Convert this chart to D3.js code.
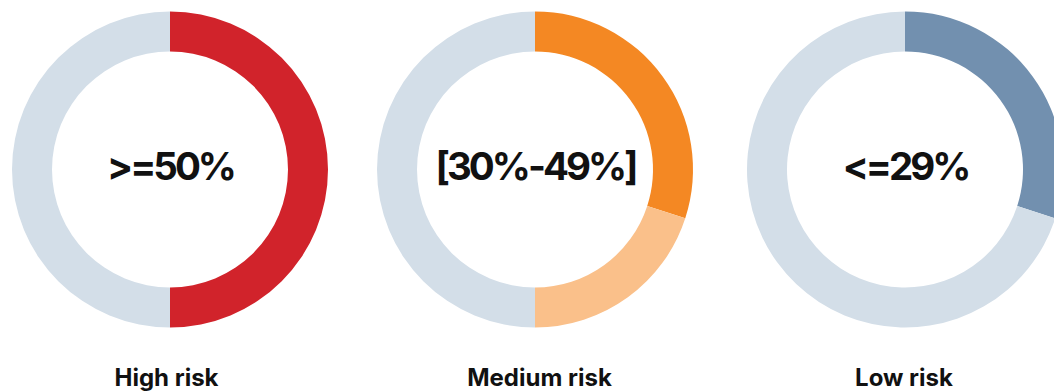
<!DOCTYPE html>
<html>
<head>
<meta charset="utf-8">
<script src="https://cdn.jsdelivr.net/npm/d3@7"></script>
<style>
  html, body { margin: 0; padding: 0; background: #fff; }
  svg { display: block; }
</style>
</head>
<body>
<svg id="chart" width="1054" height="392"></svg>
<script>
// Data
const categories = ["High risk", "Medium risk", "Low risk"];
const centerLabels = [">=50%", "[30%-49%]", "<=29%"];
// Each donut: segment values (percent of ring), in clockwise order from 12 o'clock
const highRiskValues = [50, 50];
const mediumRiskValues = [30, 20, 50];
const lowRiskValues = [30, 70];
const highRiskColors = ["#D1232B", "#D3DEE8"];
const mediumRiskColors = ["#F48823", "#FAC08A", "#D3DEE8"];
const lowRiskColors = ["#7290AF", "#D3DEE8"];

const donuts = [
  { name: categories[0], label: centerLabels[0], values: highRiskValues, colors: highRiskColors },
  { name: categories[1], label: centerLabels[1], values: mediumRiskValues, colors: mediumRiskColors },
  { name: categories[2], label: centerLabels[2], values: lowRiskValues, colors: lowRiskColors }
];

const svg = d3.select("#chart");
const x = d3.scaleOrdinal().domain(categories).range([170, 535, 905]);
const xLabel = d3.scaleOrdinal().domain(categories).range([166.5, 539.5, 904]);
const cy = 169.5;
const outerR = 158, innerR = 118;

const pie = d3.pie().sort(null).value(d => d);
const arc = d3.arc().innerRadius(innerR).outerRadius(outerR);

donuts.forEach(d => {
  const g = svg.append("g").attr("transform", `translate(${x(d.name)},${cy})`);
  g.selectAll("path")
    .data(pie(d.values))
    .join("path")
    .attr("d", arc)
    .attr("fill", (p, i) => d.colors[i]);
  g.append("text")
    .attr("text-anchor", "middle")
    .attr("x", 0.5)
    .attr("y", 10)
    .attr("font-family", "Inter, 'Noto Sans', sans-serif")
    .attr("font-weight", 700)
    .attr("font-size", 38.5)
    .attr("letter-spacing", -3)
    .attr("fill", "#111")
    .text(d.label);
  svg.append("text")
    .attr("x", xLabel(d.name))
    .attr("y", 386)
    .attr("text-anchor", "middle")
    .attr("font-family", "Inter, 'Noto Sans', sans-serif")
    .attr("font-weight", 700)
    .attr("font-size", 24)
    .attr("fill", "#111")
    .text(d.name);
});
</script>
</body>
</html>
